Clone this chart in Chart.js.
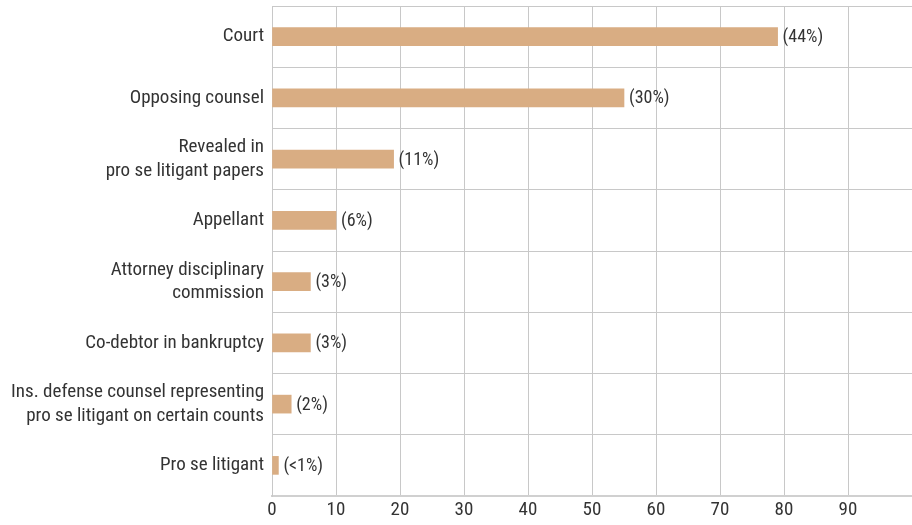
<!DOCTYPE html>
<html>
<head>
<meta charset="utf-8">
<script src="https://cdn.jsdelivr.net/npm/chart.js@4.4.1/dist/chart.umd.min.js"></script>
<style>
  body { margin: 0; background: #fff; }
  #wrap { width: 912px; height: 525px; position: relative; }
</style>
</head>
<body>
<div id="wrap"><canvas id="graphCanvas"></canvas></div>
<script>
var Categories = [
    "Court",
    "Opposing counsel",
    ["Revealed in", "pro se litigant papers"],
    "Appellant",
    ["Attorney disciplinary", "commission"],
    "Co-debtor in bankruptcy",
    ["Ins. defense counsel representing", "pro se litigant on certain counts"],
    "Pro se litigant"
];
var Counts = [79, 55, 19, 10, 6, 6, 3, 1];
var Percents = ["(44%)", "(30%)", "(11%)", "(6%)", "(3%)", "(3%)", "(2%)", "(<1%)"];
var XTicks = [0, 10, 20, 30, 40, 50, 60, 70, 80, 90];

var fontFamily = "'Liberation Sans Narrow', 'Roboto Condensed', 'Liberation Sans', sans-serif";

var percentLabels = {
    id: 'percentLabels',
    afterDatasetsDraw: function(chart){
        var ctx = chart.ctx;
        var meta = chart.getDatasetMeta(0);
        ctx.save();
        ctx.font = "18px " + fontFamily;
        ctx.fillStyle = "#333";
        ctx.textBaseline = "middle";
        ctx.textAlign = "left";
        meta.data.forEach(function(bar, i){
            ctx.fillText(Percents[i], bar.x + 5, bar.y + 1);
        });
        ctx.restore();
    }
};

var chartdata = {
    labels: Categories,
    datasets: [
        {
            label: 'Count',
            backgroundColor: '#d9ad83',
            borderWidth: 0,
            barThickness: 18,
            data: Counts
        }
    ]
};

var ctx = document.getElementById("graphCanvas");

var barGraph = new Chart(ctx, {
    type: 'bar',
    data: chartdata,
    plugins: [percentLabels],
    options: {
        indexAxis: 'y',
        responsive: true,
        maintainAspectRatio: false,
        animation: false,
        layout: { padding: { top: 6, right: 0, bottom: 0, left: 0 } },
        plugins: { legend: { display: false }, tooltip: { enabled: false } },
        scales: {
            x: {
                min: 0,
                max: 100,
                afterBuildTicks: function(scale){
                    scale.ticks = XTicks.concat([100]).map(function(v){ return { value: v }; });
                },
                afterFit: function(scale){
                    scale.paddingLeft = 0;
                    scale.paddingRight = 0;
                    scale.height = 29;
                },
                ticks: {
                    color: '#333',
                    font: { family: fontFamily, size: 19 },
                    padding: 3,
                    maxRotation: 0,
                    callback: function(v){ return XTicks.indexOf(v) >= 0 ? String(v) : ''; }
                },
                grid: {
                    color: function(c){ return c.tick && c.tick.value === 100 ? 'rgba(0,0,0,0)' : '#c8c8c8'; },
                    lineWidth: 1,
                    drawTicks: false
                },
                border: { color: '#d0d0d0', width: 2 }
            },
            y: {
                afterFit: function(scale){
                    scale.width = 272;
                    scale.paddingTop = 0;
                    scale.paddingBottom = 0;
                },
                ticks: {
                    color: '#333',
                    font: { family: fontFamily, size: 19, lineHeight: 1.25 },
                    padding: 8
                },
                grid: { color: '#c8c8c8', lineWidth: 1, drawTicks: false, offset: true },
                border: { color: '#c8c8c8', width: 1 }
            }
        }
    }
});
</script>
</body>
</html>
